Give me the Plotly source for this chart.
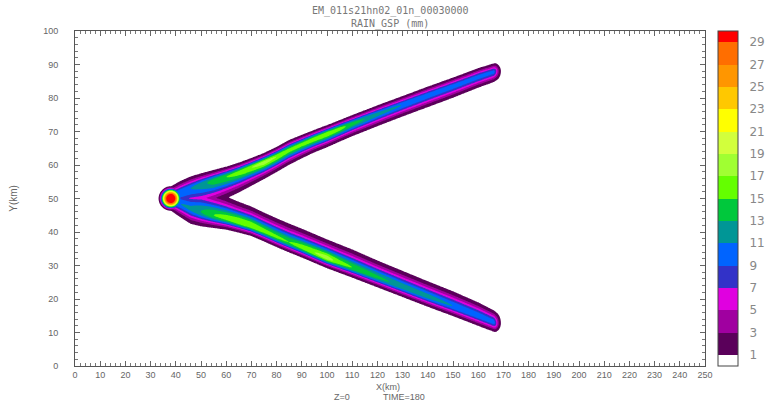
import numpy as np
import plotly.graph_objects as go

# ---- rain-band description (km) ----
arm_x = [38, 42, 46, 50, 55, 60, 65, 70, 75, 80, 85, 90, 95, 100, 105, 110, 120, 130, 140, 150, 160, 167]
upper_y = [50.6, 51.8, 53.1, 54.2, 55.3, 56.5, 57.8, 59.3, 60.8, 62.5, 64.5, 66.2, 67.8, 69.3, 70.8, 72.3,
           75.2, 78.0, 80.8, 83.5, 86.3, 88.0]
upper_peak = [11, 11, 11, 12, 14, 15, 16, 17, 18, 17, 16, 16, 16.5, 17, 16, 14, 12, 11, 10.5, 10.2, 10, 9.8]
upper_outer = [3.0, 3.5, 3.5, 3.3, 3.2, 3.0, 2.9, 2.8, 2.8, 2.9, 3.0, 2.8, 2.7, 2.6, 2.6, 2.6,
               2.6, 2.6, 2.6, 2.6, 2.6, 2.5]
upper_inner = [3.0, 5.0, 6.5, 7.5, 7.0, 6.5, 6.0, 5.5, 5.0, 4.6, 4.4, 4.2, 4.0, 4.0, 3.8, 3.7,
               3.6, 3.5, 3.5, 3.4, 3.2, 3.0]
lower_y = [49.4, 48.3, 46.9, 46.0, 45.0, 44.1, 43.0, 41.8, 40.2, 38.5, 36.9, 35.4, 33.8, 32.2, 30.8, 29.4,
           26.5, 23.6, 20.7, 17.9, 15.0, 12.8]
lower_peak = [11, 11, 11.5, 13, 15, 16, 17, 17, 16, 15.5, 15, 16, 17, 18, 16, 15, 13.5, 12.5, 12, 11, 10.5, 10]
lower_outer = [3.0, 4.0, 4.5, 4.3, 3.8, 3.4, 3.2, 3.0, 3.0, 3.0, 3.0, 3.0, 3.0, 3.0, 3.0, 3.0,
               3.0, 3.0, 3.0, 3.0, 3.0, 2.8]
lower_inner = [3.0, 5.0, 6.5, 7.5, 7.0, 6.5, 6.0, 5.8, 5.6, 5.6, 5.6, 5.6, 5.6, 5.6, 5.5, 5.4,
               5.0, 4.8, 4.6, 4.4, 4.0, 3.5]
arm_start, arm_end = 38.0, 166.0
core_x, core_y, core_peak = 38.0, 50.0, 31.0

# ---- colour levels ----
levels = [1, 3, 5, 7, 9, 11, 13, 15, 17, 19, 21, 23, 25, 27, 29]
band_colors = ["#ffffff", "#5a005a", "#a000a0", "#e000e0", "#3232c8", "#0064ff", "#009696",
               "#00c83c", "#64ff00", "#a0ff32", "#d2ff3c", "#ffff00", "#ffc800", "#ff9600",
               "#ff6e00", "#ff0000"]

title_1 = "EM_011s21hn02_01n_00030000"
title_2 = "RAIN_GSP (mm)"

# ---- build the rain field on a grid ----
gx = np.arange(30.0, 175.0, 0.3)
gy = np.arange(5.0, 95.0, 0.25)
X, Y = np.meshgrid(gx, gy)


def arm_field(cy, peak, outer, inner, outward):
    yc = np.interp(gx, arm_x, cy)[None, :]
    pk = np.interp(gx, arm_x, peak)[None, :]
    ho = np.interp(gx, arm_x, outer)[None, :]
    hi = np.interp(gx, arm_x, inner)[None, :]
    d = (Y - yc) * outward
    frac = np.where(d >= 0, d / ho, -d / hi)
    # rounded ends of the band
    beyond = np.maximum(gx - arm_end, 0) / 3.0 + np.maximum(arm_start - gx, 0) / 3.0
    frac2 = frac ** 2 + beyond[None, :] ** 2
    return pk ** (1.0 - frac2)


up = arm_field(upper_y, upper_peak, upper_outer, upper_inner, 1)
lo = arm_field(lower_y, lower_peak, lower_outer, lower_inner, -1)
r = np.sqrt((X - core_x) ** 2 + (1.33 * (Y - core_y)) ** 2)
core = core_peak * np.exp(-(r / 3.54) ** 4)
Z = np.round(np.maximum(np.maximum(up, lo), core), 2)

n = len(band_colors)
colorscale = [[k / (n - 1), c] for k, c in enumerate(band_colors)]

txt = dict(family="Liberation Sans, Arial, sans-serif", size=9, color="#666666")
mono = dict(family="DejaVu Sans Mono, monospace", size=10, color="#777777")

fig = go.Figure(go.Contour(
    x=gx, y=gy, z=Z,
    contours=dict(start=levels[0], end=levels[-1], size=2, coloring="fill", showlines=False),
    colorscale=colorscale,
    line=dict(width=0),
    colorbar=dict(
        x=1.0206, xanchor="left", y=0.5, yanchor="middle", len=1.0,
        thickness=20, xpad=0, ypad=0,
        outlinewidth=1, outlinecolor="#444444",
        tickvals=levels, ticktext=[str(v) for v in levels],
        ticks="outside", ticklen=9, tickcolor="rgba(0,0,0,0)",
        tickfont=dict(family="DejaVu Sans, sans-serif", size=12, color="#888888"),
    ),
    hoverinfo="skip",
))

axis_common = dict(
    showgrid=False, zeroline=False, showline=True, linecolor="#555555", linewidth=1,
    ticks="inside", ticklen=5, tickcolor="#666666", mirror="ticks",
    tickfont=txt,
)
fig.update_xaxes(range=[0, 250], dtick=10, tick0=0,
                 minor=dict(dtick=2, ticks="inside", ticklen=3, tickcolor="#777777"),
                 **axis_common)
fig.update_yaxes(range=[0, 100], dtick=10, tick0=0, ticklabelstandoff=14,
                 minor=dict(dtick=2, ticks="inside", ticklen=3, tickcolor="#777777"),
                 **axis_common)

annots = [
    dict(text=title_1, x=0.5, y=1.0597, font=mono),
    dict(text=title_2, x=0.5, y=1.0209, font=mono),
    dict(text="X(km)", x=0.497, y=-0.062, font=dict(txt, size=9)),
    dict(text="Z=0", x=0.424, y=-0.092, font=dict(txt, size=9)),
    dict(text="TIME=180", x=0.522, y=-0.092, font=dict(txt, size=9)),
    dict(text="Y(km)", x=-0.098, y=0.50, font=dict(txt, size=10), textangle=-90),
]
for a in annots:
    fig.add_annotation(xref="paper", yref="paper", xanchor="center", yanchor="middle",
                       showarrow=False, **a)

fig.update_layout(
    width=778, height=407,
    margin=dict(l=75, r=73, t=31, b=41),
    paper_bgcolor="white", plot_bgcolor="white",
    showlegend=False,
)

fig.write_html("out.html")
